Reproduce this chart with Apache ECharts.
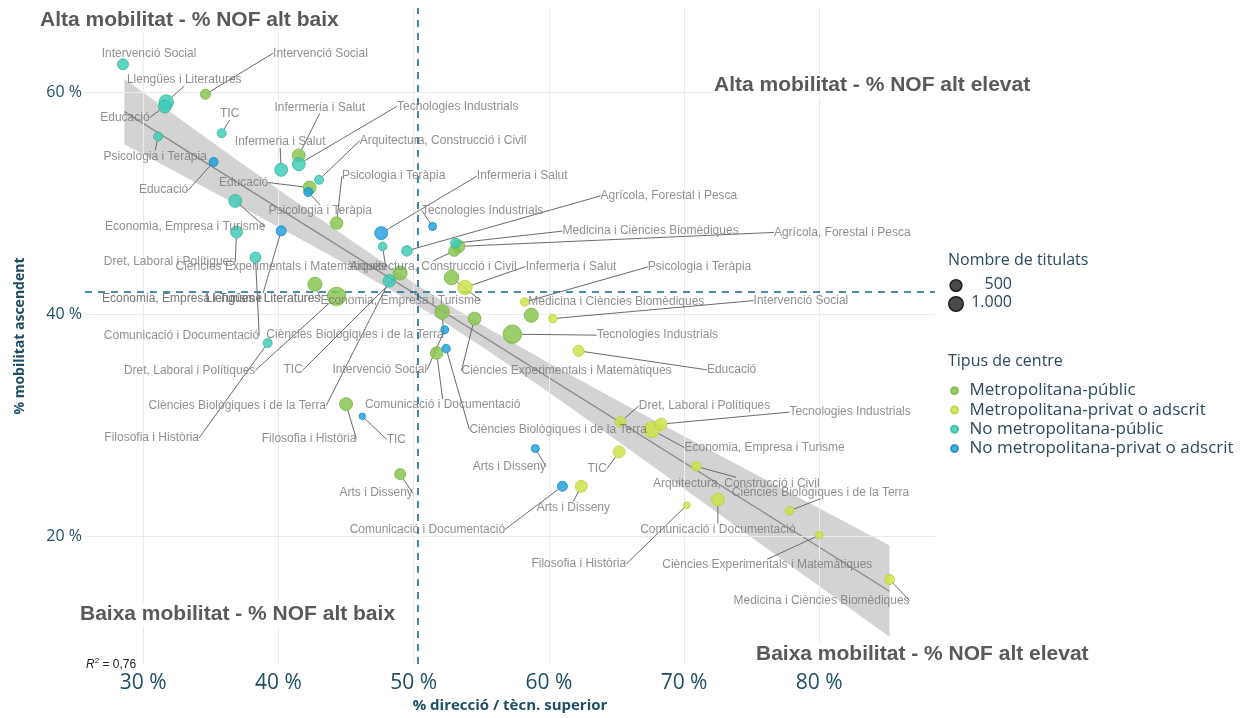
<!DOCTYPE html>
<html><head><meta charset="utf-8">
<script src="https://cdn.jsdelivr.net/npm/echarts@6/dist/echarts.min.js"></script>
<style>html,body{margin:0;padding:0;background:#fff}#c{width:1250px;height:718px}</style>
</head><body><div id="c"></div>
<script>
// ---------------- DATA ----------------
const seriesNames = ['Metropolitana-públic','Metropolitana-privat o adscrit','No metropolitana-públic','No metropolitana-privat o adscrit'];

const mpNames = ['Intervenció Social','Infermeria i Salut','Educació','Psicologia i Teràpia','Llengües i Literatures','Dret, Laboral i Polítiques','TIC','Agrícola, Forestal i Pesca','Arquitectura, Construcció i Civil','Economia, Empresa i Turisme','Ciències Biològiques i de la Terra','Ciències Experimentals i Matemàtiques','Tecnologies Industrials','Medicina i Ciències Biomèdiques','Comunicació i Documentació','Filosofia i Història','Arts i Disseny'];
const mpX = [34.6, 41.5, 42.3, 44.3, 42.7, 44.3, 49.0, 53.3, 53.0, 52.8, 52.1, 54.5, 57.3, 58.7, 51.7, 45.0, 49.0];
const mpY = [59.8, 54.3, 51.4, 48.2, 42.7, 41.6, 43.7, 46.1, 45.7, 43.3, 40.2, 39.6, 38.2, 39.9, 36.5, 31.9, 25.6];
const mpN = [280, 700, 700, 620, 900, 2000, 900, 700, 400, 1000, 1000, 700, 2000, 900, 620, 700, 400];

const ypNames = ['Infermeria i Salut','Psicologia i Teràpia','Intervenció Social','Educació','Dret, Laboral i Polítiques','Economia, Empresa i Turisme','Tecnologies Industrials','TIC','Arts i Disseny','Arquitectura, Construcció i Civil','Filosofia i Història','Comunicació i Documentació','Ciències Biològiques i de la Terra','Ciències Experimentals i Matemàtiques','Medicina i Ciències Biomèdiques'];
const ypX = [53.8, 58.2, 60.3, 62.2, 65.3, 67.6, 68.3, 65.2, 62.4, 70.9, 70.2, 72.5, 77.8, 80.0, 85.2];
const ypY = [42.4, 41.1, 39.6, 36.7, 30.3, 29.6, 30.1, 27.6, 24.5, 26.3, 22.8, 23.3, 22.3, 20.1, 16.1];
const ypN = [1000, 140, 140, 400, 340, 1350, 540, 540, 540, 220, 25, 700, 140, 70, 280];

const tpNames = ['Intervenció Social','Llengües i Literatures','Educació','TIC','Psicologia i Teràpia','Infermeria i Salut','Tecnologies Industrials','Arquitectura, Construcció i Civil','Economia, Empresa i Turisme','Dret, Laboral i Polítiques','Comunicació i Documentació','Ciències Experimentals i Matemàtiques','Agrícola, Forestal i Pesca','Medicina i Ciències Biomèdiques','Ciències Biològiques i de la Terra','Filosofia i Història'];
const tpX = [28.5, 31.7, 31.6, 35.8, 31.1, 40.2, 41.5, 43.0, 36.8, 36.9, 38.3, 47.7, 49.5, 53.1, 48.2, 39.2];
const tpY = [62.5, 59.1, 58.7, 56.3, 56.0, 53.0, 53.5, 52.1, 50.2, 47.4, 45.1, 46.1, 45.7, 46.4, 43.0, 37.4];
const tpN = [400, 1000, 700, 180, 180, 700, 700, 180, 700, 540, 400, 140, 340, 280, 620, 180];

const bpNames = ['Educació','Psicologia i Teràpia','Llengües i Literatures','Infermeria i Salut','Tecnologies Industrials','Intervenció Social','Ciències Biològiques i de la Terra','TIC','Arts i Disseny','Comunicació i Documentació'];
const bpX = [35.2, 42.2, 40.2, 47.6, 51.4, 52.3, 52.4, 46.2, 59.0, 61.0];
const bpY = [53.7, 51.0, 47.5, 47.3, 47.9, 38.6, 36.9, 30.8, 27.9, 24.5];
const bpN = [180, 180, 280, 700, 100, 100, 140, 25, 100, 280];

// regression line and confidence band
const fitX = [28.6, 85.2];
const fitY = [58.24, 15.05];
const bandX = [28.6, 35, 40, 45, 50, 52.5, 55, 60, 65, 70, 75, 80, 85.2];
const bandUpper = [61.19, 55.58, 51.23, 46.94, 42.83, 40.90, 39.06, 35.60, 32.28, 29.01, 25.76, 22.53, 19.17];
const bandLower = [55.29, 51.12, 47.85, 44.50, 40.99, 39.10, 37.12, 32.96, 28.64, 24.29, 19.90, 15.51, 10.93];

// reference lines
const refX = 50.32;
const refY = 42.06;

// ticks
const xTicks = [30, 40, 50, 60, 70, 80];
const yTicks = [20, 40, 60];
const sizeLegendValues = [500, 1000];
const sizeLegendLabels = ['500', '1.000'];

// ---------------- LAYOUT (label offsets in px: dx, dy, show leader) ----------------
const mpOff = [[115,-41,1],[21,-48,1],[-66,-5,1],[57,-47,1],[-52,14,1],[-147,74,1],[-107,97,1],[384,-14,1],[-21,16,1],[-51,23,1],[-87,23,1],[92,52,1],[145,1,1],[85,-14,0],[6,52,1],[-37,35,1],[-24,19,1]];
const ypOff = [[106,-21,1],[175,-35,1],[248,-18,1],[153,19,1],[84,-16,1],[113,18,1],[189,-12,1],[-22,17,1],[-8,21,1],[40,17,1],[-108,59,1],[0,30,1],[31,-18,1],[-52,30,1],[-68,21,1]];
const tpOff = [[26,-11,0],[18,-22,1],[-40,11,1],[8,-19,1],[-3,20,1],[-1,-28,1],[159,-58,1],[124,-39,1],[-50,26,1],[-67,30,1],[-74,78,1],[-102,20,1],[262,-55,1],[195,-12,1],[-152,125,1],[-116,95,1]];
const bpOff = [[-50,28,1],[12,19,1],[-18,68,1],[141,-57,1],[50,-16,1],[-65,40,1],[112,81,1],[34,23,1],[-26,18,1],[-135,43,1]];

const colors = ['#86c44a', '#cde045', '#3dcbb5', '#1d9fdc'];
const borders = ['#78b53f', '#bccf3a', '#33b8a3', '#1a8cc2'];
const axisColor = '#1f4e64';
const labelFont = "'Liberation Sans', Arial, sans-serif";
const uiFont = "'Open Sans', 'Noto Sans', sans-serif";

const sizeOf = n => 5 + 0.3 * Math.sqrt(n);

function makeScatter(idx, names, xs, ys, ns, offs) {
  return {
    type: 'scatter', name: seriesNames[idx], z: 5,
    data: xs.map((x, i) => ({ name: names[i], value: [x, ys[i], ns[i]], labelLine: { show: offs[i][2] === 1 } })),
    symbolSize: v => sizeOf(v[2]),
    itemStyle: { color: colors[idx], opacity: 0.82, borderColor: borders[idx], borderWidth: 1 },
    label: { show: true, position: 'inside', formatter: p => p.name, color: '#777777', fontSize: 12, fontFamily: labelFont },
    labelLine: { show: true, lineStyle: { color: '#6b6b6b', width: 1 } },
    labelLayout: p => ({ dx: offs[p.dataIndex][0], dy: offs[p.dataIndex][1] }),
    emphasis: { disabled: true }
  };
}

const chart = echarts.init(document.getElementById('c'), null, { renderer: 'canvas', width: 1250, height: 718 });

const option = {
  animation: false,
  backgroundColor: '#ffffff',
  grid: { left: 85, right: 315, top: 8, bottom: 50 },
  xAxis: {
    type: 'value', min: 25.69, max: 88.56,
    axisLine: { show: false }, axisTick: { show: false }, splitLine: { show: false },
    axisLabel: { customValues: xTicks, formatter: v => v + ' %', color: axisColor, fontSize: 21, margin: 8, fontFamily: uiFont },
    name: '% direcció / tècn. superior', nameLocation: 'middle', nameGap: 31,
    nameTextStyle: { fontWeight: 'bold', fontSize: 15, color: axisColor, fontFamily: uiFont }
  },
  yAxis: {
    type: 'value', min: 8.49, max: 67.57,
    axisLine: { show: false }, axisTick: { show: false }, splitLine: { show: false },
    axisLabel: { customValues: yTicks, formatter: v => v + ' %', color: axisColor, fontSize: 16, margin: 3, fontFamily: uiFont },
    name: '% mobilitat ascendent', nameLocation: 'middle', nameGap: 58,
    nameTextStyle: { fontWeight: 'bold', fontSize: 14, color: axisColor, fontFamily: uiFont }
  },
  legend: {
    data: seriesNames, orient: 'vertical', left: 945, top: 376,
    itemWidth: 20, itemHeight: 7, itemGap: 0, icon: 'circle', selectedMode: false,
    textStyle: { color: '#2b4a5a', fontSize: 17, fontFamily: uiFont, lineHeight: 19.3 }
  },
  series: [
    { // gridlines
      type: 'line', data: [], silent: true, z: 1,
      markLine: {
        silent: true, symbol: ['none', 'none'], label: { show: false }, animation: false,
        lineStyle: { color: '#ebebeb', width: 1, type: 'solid' },
        data: xTicks.map(v => ({ xAxis: v })).concat(yTicks.map(v => ({ yAxis: v })))
      }
    },
    { // confidence band
      type: 'custom', z: 2, silent: true,
      data: [[bandX[0], bandUpper[0]]],
      renderItem: (params, api) => {
        const up = bandX.map((x, i) => api.coord([x, bandUpper[i]]));
        const lo = bandX.map((x, i) => api.coord([x, bandLower[i]])).reverse();
        return { type: 'polygon', shape: { points: up.concat(lo) }, style: { fill: '#d3d3d3' } };
      }
    },
    { // regression line + reference lines
      type: 'line', z: 3, silent: true, symbol: 'none',
      data: fitX.map((x, i) => [x, fitY[i]]),
      lineStyle: { color: '#8a8a8a', width: 1.3 },
      markLine: {
        silent: true, symbol: ['none', 'none'], label: { show: false }, animation: false,
        lineStyle: { color: '#17698c', width: 1.6, type: [7, 6] },
        data: [{ xAxis: refX }, { yAxis: refY }]
      }
    },
    makeScatter(0, mpNames, mpX, mpY, mpN, mpOff),
    makeScatter(1, ypNames, ypX, ypY, ypN, ypOff),
    makeScatter(2, tpNames, tpX, tpY, tpN, tpOff),
    makeScatter(3, bpNames, bpX, bpY, bpN, bpOff)
  ],
  graphic: [
    { type: 'text', z: 20, left: 37, top: 8, style: { text: 'Alta mobilitat - % NOF alt baix', fill: '#595959', font: "bold 21px 'Liberation Sans Narrow', 'Liberation Sans', sans-serif", backgroundColor: '#fff', padding: [2, 3] } },
    { type: 'text', z: 20, left: 711, top: 73, style: { text: 'Alta mobilitat - % NOF alt elevat', fill: '#595959', font: "bold 21px 'Liberation Sans Narrow', 'Liberation Sans', sans-serif", backgroundColor: '#fff', padding: [2, 3] } },
    { type: 'text', z: 20, left: 77, top: 602, style: { text: 'Baixa mobilitat - % NOF alt baix', fill: '#595959', font: "bold 21px 'Liberation Sans Narrow', 'Liberation Sans', sans-serif", backgroundColor: '#fff', padding: [2, 3] } },
    { type: 'text', z: 20, left: 753, top: 642, style: { text: 'Baixa mobilitat - % NOF alt elevat', fill: '#595959', font: "bold 21px 'Liberation Sans Narrow', 'Liberation Sans', sans-serif", backgroundColor: '#fff', padding: [2, 3] } },
    { type: 'text', z: 20, left: 86, top: 657, style: {
        text: '{i|R}{s|2}{n| = 0,76}',
        rich: { i: { fontStyle: 'italic', fontSize: 12, fill: '#222', fontFamily: "'Liberation Sans Narrow', 'Liberation Sans'" },
                s: { fontSize: 8, fill: '#222', verticalAlign: 'top', padding: [0, 0, 8, 0] },
                n: { fontSize: 12, fill: '#222', fontFamily: "'Liberation Sans Narrow', 'Liberation Sans'" } } } },
    { type: 'text', z: 20, left: 102, top: 293, style: { text: 'Economia, Empresa i Turisme', fill: '#777777', font: "12px 'Liberation Sans', Arial, sans-serif" } },
    { type: 'text', left: 948, top: 252, style: { text: 'Nombre de titulats', fill: '#2b4a5a', font: "16px 'Open Sans', sans-serif" } },
    { type: 'circle', shape: { cx: 956, cy: 285.5, r: sizeOf(sizeLegendValues[0]) / 2 }, style: { fill: '#4a4a4a', stroke: '#1e1e1e', lineWidth: 1.5 } },
    { type: 'circle', shape: { cx: 956, cy: 304, r: sizeOf(sizeLegendValues[1]) / 2 }, style: { fill: '#4a4a4a', stroke: '#1e1e1e', lineWidth: 1.5 } },
    { type: 'text', right: 1250 - 1012, top: 276, style: { text: sizeLegendLabels[0], fill: '#2b4a5a', font: "16px 'Open Sans', sans-serif", align: 'right' } },
    { type: 'text', right: 1250 - 1012, top: 294, style: { text: sizeLegendLabels[1], fill: '#2b4a5a', font: "16px 'Open Sans', sans-serif", align: 'right' } },
    { type: 'text', left: 948, top: 353, style: { text: 'Tipus de centre', fill: '#2b4a5a', font: "16px 'Open Sans', sans-serif" } }
  ]
};
chart.setOption(option);
</script></body></html>
